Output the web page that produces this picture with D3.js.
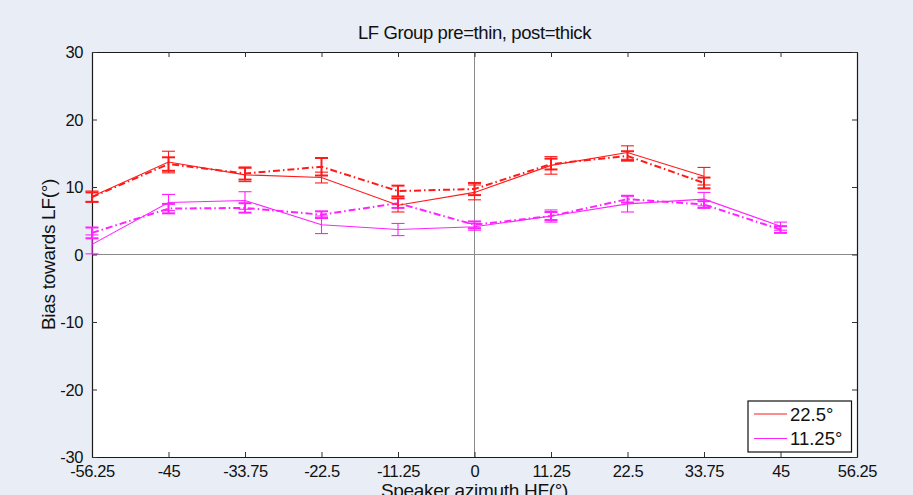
<!DOCTYPE html>
<html><head><meta charset="utf-8">
<script src="https://cdn.jsdelivr.net/npm/d3@7"></script>
<style>
html,body{margin:0;padding:0;background:#e9edf5;}
svg{display:block;font-family:"Liberation Sans",Arial,sans-serif;}
</style></head>
<body><svg id="c" width="913" height="495"></svg>
<script>
const xTicks = [-56.25,-45,-33.75,-22.5,-11.25,0,11.25,22.5,33.75,45,56.25];
const yTicks = [-30,-20,-10,0,10,20,30];
const xRed = [-56.25,-45,-33.75,-22.5,-11.25,0,11.25,22.5,33.75];
const xMag = [-56.25,-45,-33.75,-22.5,-11.25,0,11.25,22.5,33.75,45];
// 22.5° pre (thin solid) and post (thick dash-dot)
const redPre = [8.6,13.7,11.8,11.4,7.3,9.2,13.2,15.1,11.6];
const redPreErr = [0.8,1.6,1.0,0.8,1.0,1.1,1.3,1.0,1.3];
const redPost = [8.5,13.4,12.0,13.0,9.4,9.7,13.4,14.6,10.6];
const redPostErr = [0.7,1.0,0.9,1.3,0.8,0.9,0.8,0.7,0.8];
// 11.25° pre (thin solid) and post (thick dash-dot)
const magPre = [1.5,7.7,8.0,4.4,3.7,4.1,5.7,7.5,8.2,4.2];
const magPreErr = [1.4,1.2,1.3,1.3,0.9,0.5,0.9,1.2,1.0,0.6];
const magPost = [3.2,6.8,6.9,5.9,7.6,4.4,5.7,8.2,7.4,3.7];
const magPostErr = [0.8,0.7,0.7,0.5,0.7,0.5,0.6,0.5,0.5,0.5];
const legendLabels = ["22.5°","11.25°"];

const svg = d3.select("#c");
const L=92, R=857, T=52, B=457;
const x = d3.scaleLinear().domain([-56.25,56.25]).range([L,R]);
const y = d3.scaleLinear().domain([-30,30]).range([B,T]);

svg.append("rect").attr("x",L).attr("y",T).attr("width",R-L).attr("height",B-T).attr("fill","#fff");

// zero lines
svg.append("line").attr("x1",x(0)).attr("x2",x(0)).attr("y1",T).attr("y2",B).attr("stroke","#8a8a8a").attr("stroke-width",1);
svg.append("line").attr("x1",L).attr("x2",R).attr("y1",y(0)).attr("y2",y(0)).attr("stroke","#8a8a8a").attr("stroke-width",1);

// axes
const fs = 16.5;
const axB = svg.append("g").attr("transform",`translate(0,${B})`)
  .call(d3.axisBottom(x).tickValues(xTicks).tickSizeInner(-5).tickSizeOuter(0).tickPadding(8).tickFormat(d=>String(d)));
const axT = svg.append("g").attr("transform",`translate(0,${T})`)
  .call(d3.axisTop(x).tickValues(xTicks).tickSizeInner(-5).tickSizeOuter(0).tickFormat(""));
const axL = svg.append("g").attr("transform",`translate(${L},0)`)
  .call(d3.axisLeft(y).tickValues(yTicks).tickSizeInner(-5).tickSizeOuter(0).tickPadding(9).tickFormat(d=>String(d)));
const axR = svg.append("g").attr("transform",`translate(${R},0)`)
  .call(d3.axisRight(y).tickValues(yTicks).tickSizeInner(-5).tickSizeOuter(0).tickFormat(""));
[axB,axT,axL,axR].forEach(a=>{
  a.select(".domain").attr("stroke","#1a1a1a").attr("stroke-width",1.2);
  a.selectAll(".tick line").attr("stroke","#333");
  a.selectAll("text").attr("font-size",fs).attr("fill","#111").attr("font-family","Liberation Sans, Arial, sans-serif");
});
axB.selectAll("text").attr("dy","0.71em").attr("letter-spacing","-0.4");
axL.selectAll("text").attr("dy","0.35em").attr("letter-spacing","-0.4");

function series(xs, vals, errs, color, thick){
  const g = svg.append("g");
  const line = d3.line().x((d,i)=>x(xs[i])).y(d=>y(d));
  const p = g.append("path").datum(vals).attr("d",line).attr("fill","none")
    .attr("stroke",color).attr("stroke-width",thick?2:1.1);
  if(thick) p.attr("stroke-dasharray","7,3,1.5,3");
  const w = 6.5;
  xs.forEach((xv,i)=>{
    const cx = x(xv), y1 = y(vals[i]+errs[i]), y2 = y(vals[i]-errs[i]);
    const sw = thick?2:1.1;
    g.append("line").attr("x1",cx).attr("x2",cx).attr("y1",y1).attr("y2",y2).attr("stroke",color).attr("stroke-width",sw);
    g.append("line").attr("x1",cx-w).attr("x2",cx+w).attr("y1",y1).attr("y2",y1).attr("stroke",color).attr("stroke-width",sw);
    g.append("line").attr("x1",cx-w).attr("x2",cx+w).attr("y1",y2).attr("y2",y2).attr("stroke",color).attr("stroke-width",sw);
  });
}
const RED="#ff1a1a", MAG="#ff22ff";
series(xMag, magPre, magPreErr, MAG, false);
series(xMag, magPost, magPostErr, MAG, true);
series(xRed, redPre, redPreErr, RED, false);
series(xRed, redPost, redPostErr, RED, true);

// title and labels
svg.append("text").attr("x",(L+R)/2).attr("y",39).attr("text-anchor","middle")
  .attr("font-size",18.5).attr("fill","#111").attr("letter-spacing","-0.4").text("LF Group pre=thin, post=thick");
svg.append("text").attr("x",(L+R)/2).attr("y",497).attr("text-anchor","middle")
  .attr("font-size",19).attr("fill","#111").attr("letter-spacing","-0.3").text("Speaker azimuth HF(°)");
svg.append("text").attr("transform",`translate(55,${(T+B)/2}) rotate(-90)`).attr("text-anchor","middle")
  .attr("font-size",19).attr("fill","#111").attr("letter-spacing","-0.3").text("Bias towards LF(°)");

// legend
const lg = svg.append("g");
lg.append("rect").attr("x",748).attr("y",401).attr("width",103.5).attr("height",51).attr("fill","#fff").attr("stroke","#111").attr("stroke-width",1.2);
[RED,MAG].forEach((c,i)=>{
  const yy = 414 + i*24.5;
  lg.append("line").attr("x1",754).attr("x2",787).attr("y1",yy).attr("y2",yy).attr("stroke",c).attr("stroke-width",1.1);
  lg.append("text").attr("x",790).attr("y",yy).attr("dy","0.36em").attr("font-size",18.5).attr("fill","#111").text(legendLabels[i]);
});
</script></body></html>
